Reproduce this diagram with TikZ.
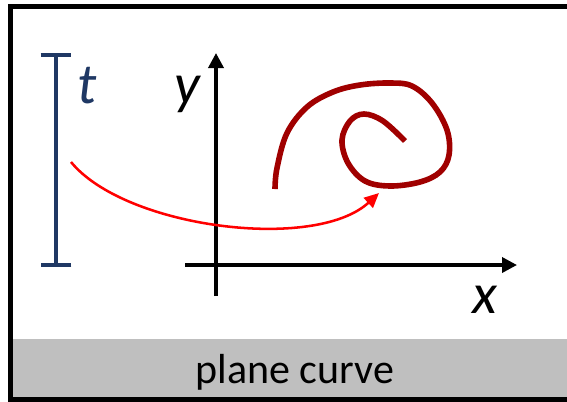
\documentclass[tikz,border=0pt]{standalone}
\usepackage{fontspec}
\setmainfont{Carlito}
\usetikzlibrary{arrows.meta}
\definecolor{parblue}{HTML}{1F3864}
\definecolor{curvered}{RGB}{160,0,0}
\definecolor{bandgray}{RGB}{191,191,191}
\begin{document}
\begin{tikzpicture}[x=0.75pt, y=-0.75pt,
  frame/.style={draw=black, line width=3.75pt},
  band/.style={fill=bandgray},
  param/.style={draw=parblue, line width=2.8pt, {Bar[width=23pt]}-{Bar[width=23pt]}},
  axis/.style={-{Triangle[length=11.25pt, width=11.25pt]}, line width=2.6pt},
  curve/.style={draw=curvered, line width=4.2pt},
  map/.style={-{Triangle[length=11pt, width=10pt]}, draw=red, line width=1.9pt},
  varname/.style={font=\fontsize{43}{50}\selectfont\itshape, inner sep=0pt, anchor=base},
  caption/.style={font=\fontsize{31.5}{36}\selectfont, inner sep=0pt, anchor=base},
]
\useasboundingbox (0,0) rectangle (567,401);

% ---------------------------------------------------------------- frame
\fill[band] (13,339) rectangle (567,397);
\draw[frame] (567,6.5) -- (10.5,6.5) -- (10.5,399.5) -- (567,399.5);
\node[caption] (name) at (295,383) {plane curve};

% ---------------------------------------------------------------- parameter
\coordinate (tlow) at (56,267);
\coordinate (thigh) at (56,53);
\draw[param] (tlow) -- (thigh);
\node[varname, text=parblue] (tname) at (87,103) {t};

% ---------------------------------------------------------------- axes
\coordinate (xstart) at (185,265);
\coordinate (xend) at (517,265);
\coordinate (ystart) at (216,296);
\coordinate (yend) at (216,53);
\draw[axis] (xstart) -- (xend);
\draw[axis] (ystart) -- (yend);
\node[varname] (xname) at (485,313) {x};
\node[varname] (yname) at (187,103) {y};

% ---------------------------------------------------------------- curve
\draw[curve] plot[smooth, tension=0.6] coordinates {
  (275,189) (277,168) (287,133) (307,107) (333,92) (360,85) (390,83)
  (412,86) (432,103) (447,130) (449,155) (440,172) (420,182) (390,186)
  (365,181) (348,163) (342,140) (350,121) (364,114) (383,121) (405,141)};

% ---------------------------------------------------------------- map
\coordinate (src) at (71,162);
\coordinate (dst) at (379,193);
\draw[map] (src) .. controls (125,228) and (315,252) .. (dst);
\end{tikzpicture}
\end{document}
